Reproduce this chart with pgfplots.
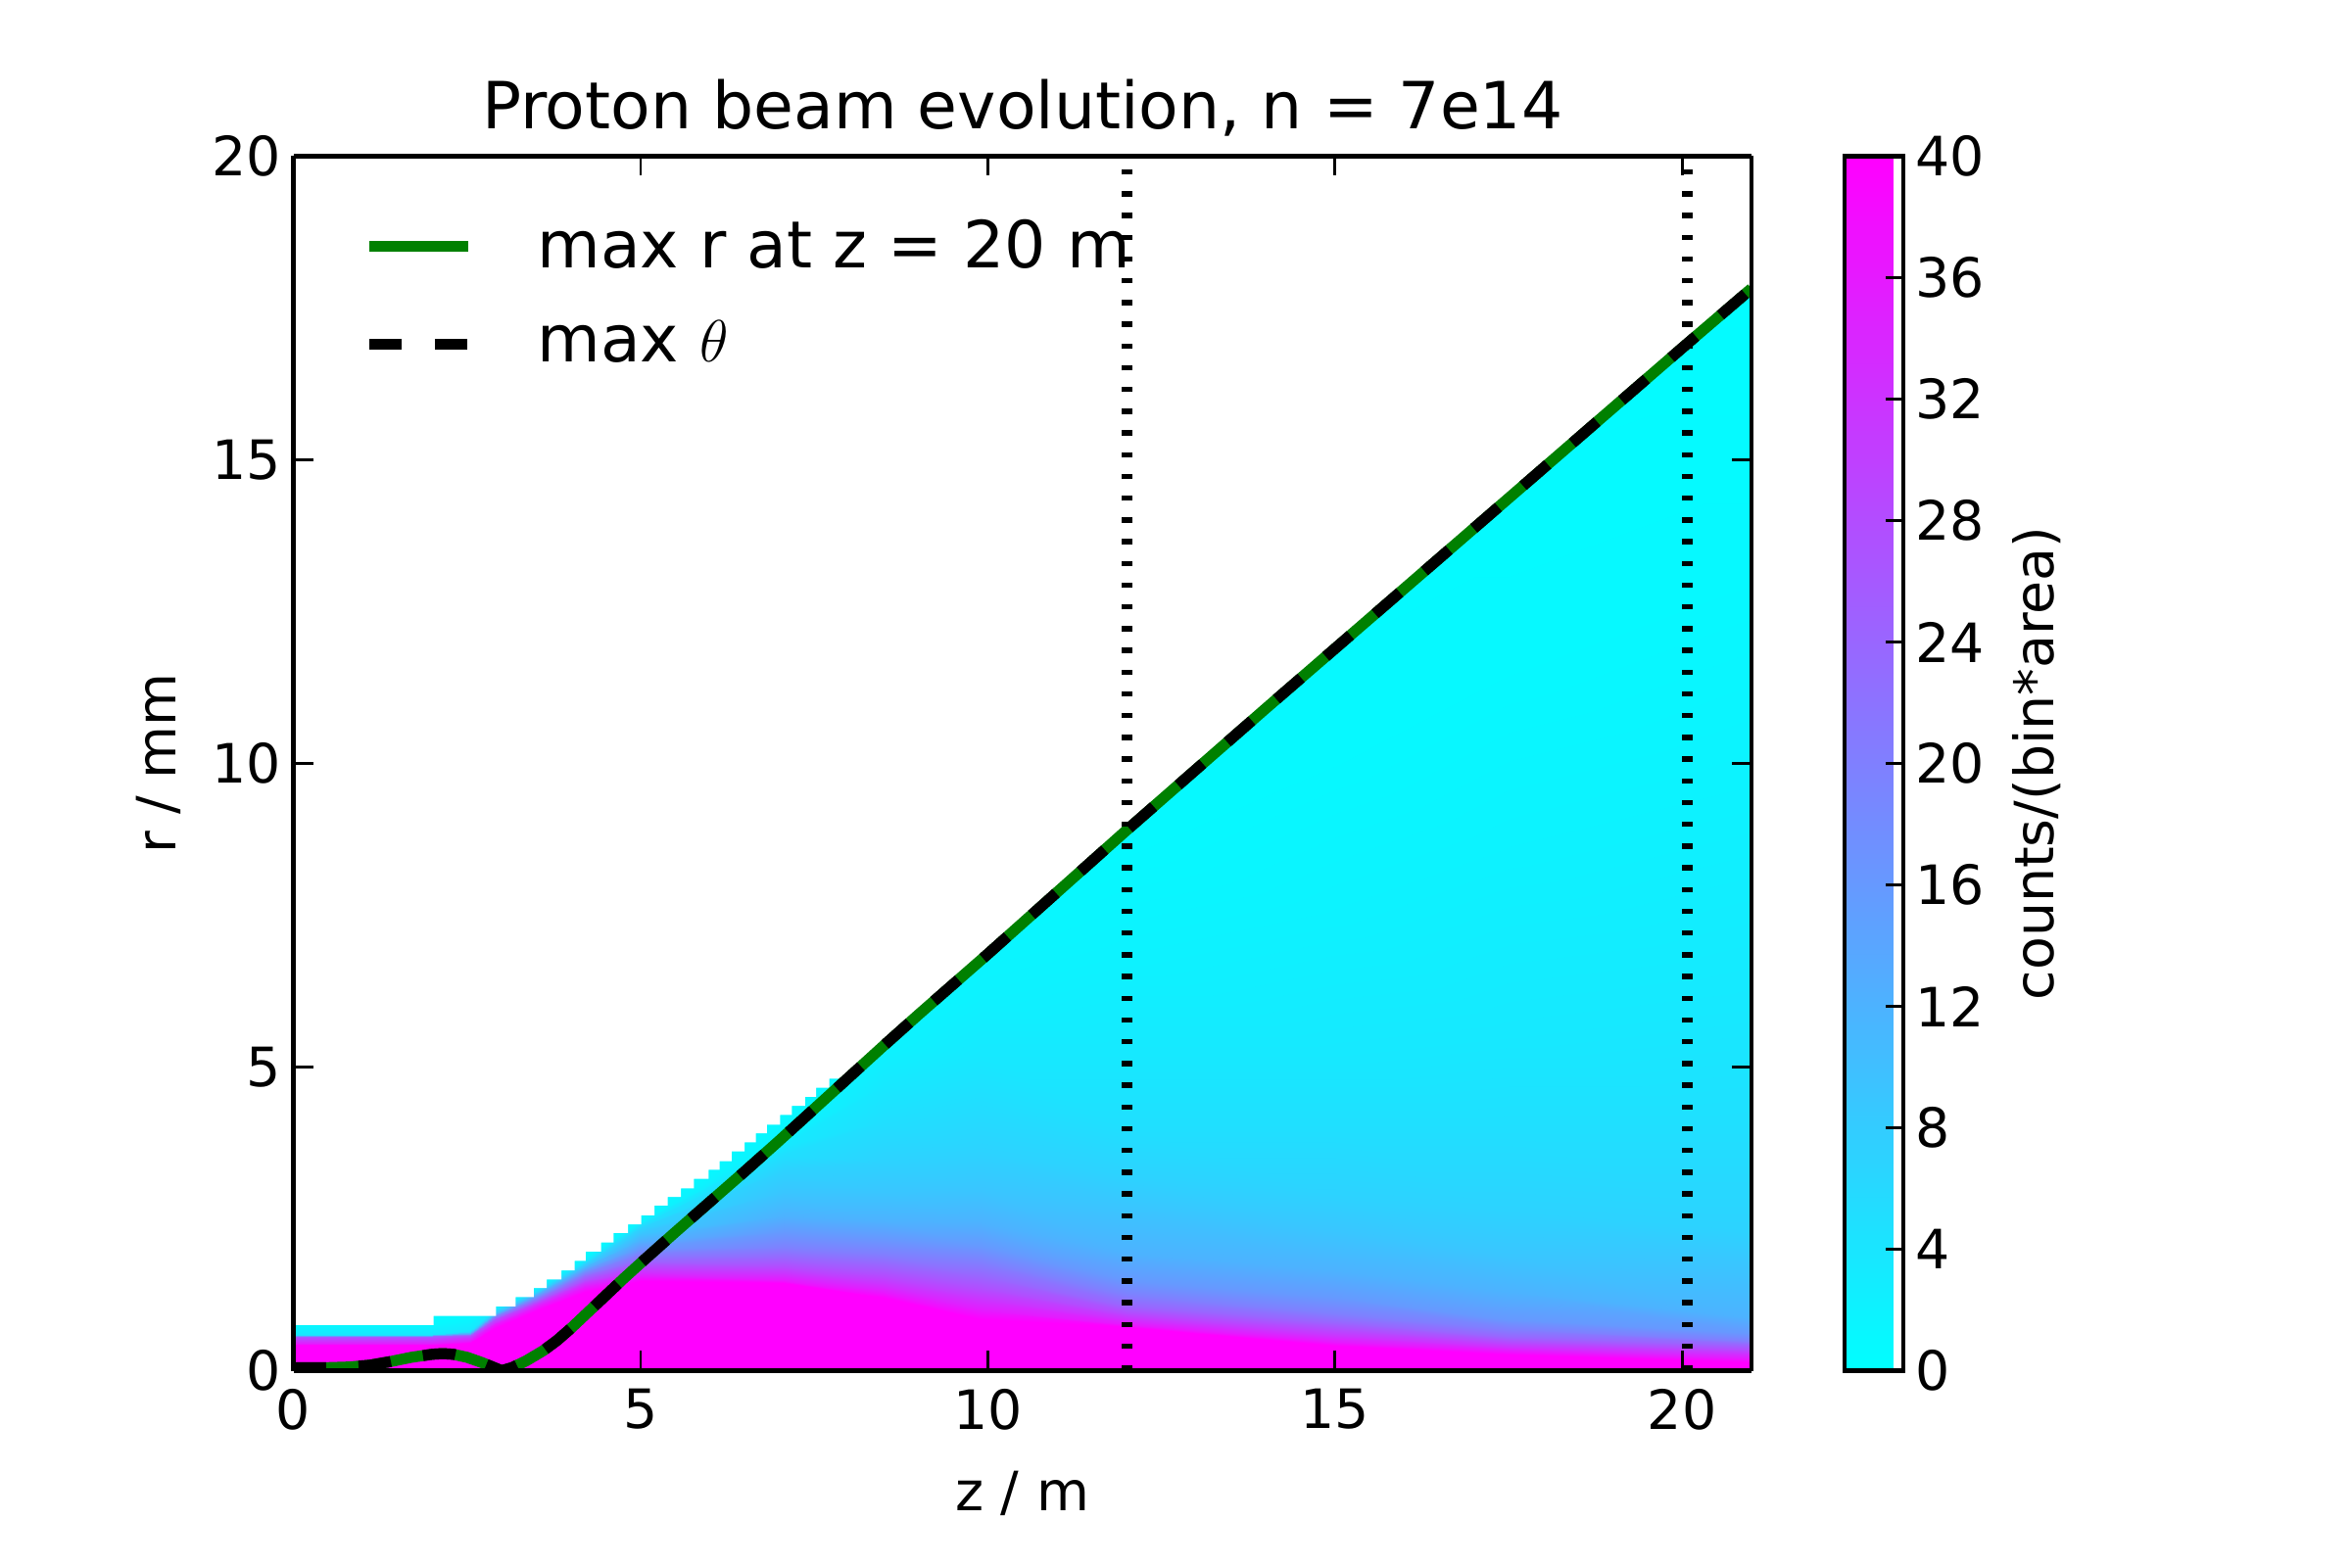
\documentclass[border=0pt]{standalone}
\usepackage{fontspec}
\setmainfont{DejaVu Sans}
\usepackage{pgfplots}
\usepackage{pgfplotstable}
\pgfplotsset{compat=1.18}
\definecolor{mplgreen}{rgb}{0,0.5,0}
\pgfplotsset{
  colormap={cool}{rgb=(0,1,1) rgb=(1,0,1)},
  legend image code/.code={\draw[#1,line cap=butt] (0cm,0cm) -- (1.01cm,0cm);},
}

% heat map: each block of 16 rows is one z column; v levels per row index
\pgfplotstableread{
z r v
0 0 40
0 0.42 40
0 0.45 36
0 0.49 32
0 0.54 28
0 0.57 24
0 0.575 20
0 0.58 16
0 0.583 12
0 0.586 9
0 0.589 7
0 0.592 5
0 0.6 3.5
0 0.7 2
0 0.76 1
0 19.5 0.3
2.0 0 40
2.0 0.42 40
2.0 0.45 36
2.0 0.49 32
2.0 0.54 28
2.0 0.57 24
2.0 0.575 20
2.0 0.58 16
2.0 0.583 12
2.0 0.586 9
2.0 0.589 7
2.0 0.592 5
2.0 0.6 3.5
2.0 0.7 2
2.0 0.76 1
2.0 19.5 0.3
2.55 0 40
2.55 0.46 40
2.55 0.5 36
2.55 0.54 32
2.55 0.57 28
2.55 0.59 24
2.55 0.6 20
2.55 0.61 16
2.55 0.62 12
2.55 0.63 9
2.55 0.64 7
2.55 0.65 5
2.55 0.67 3.5
2.55 0.8 2
2.55 0.92 1
2.55 19.5 0.3
2.9 0 40
2.9 0.7 40
2.9 0.76 36
2.9 0.8 32
2.9 0.84 28
2.9 0.87 24
2.9 0.89 20
2.9 0.91 16
2.9 0.93 12
2.9 0.95 9
2.9 0.97 7
2.9 0.99 5
2.9 1.01 3.5
2.9 1.04 2
2.9 1.1 1
2.9 19.5 0.3
3.5 0 40
3.5 1.0 40
3.5 1.06 36
3.5 1.1 32
3.5 1.14 28
3.5 1.17 24
3.5 1.2 20
3.5 1.23 16
3.5 1.26 12
3.5 1.28 9
3.5 1.3 7
3.5 1.32 5
3.5 1.34 3.5
3.5 1.37 2
3.5 1.42 1
3.5 19.5 0.3
4.2 0 40
4.2 1.3 40
4.2 1.38 36
4.2 1.45 32
4.2 1.5 28
4.2 1.55 24
4.2 1.6 20
4.2 1.65 16
4.2 1.7 12
4.2 1.73 9
4.2 1.76 7
4.2 1.79 5
4.2 1.82 3.5
4.2 1.85 2
4.2 1.9 1
4.2 19.5 0.3
5.0 0 40
5.0 1.47 40
5.0 1.55 36
5.0 1.63 32
5.0 1.73 28
5.0 1.82 24
5.0 1.92 20
5.0 2.02 16
5.0 2.15 12
5.0 2.27 9
5.0 2.34 7
5.0 2.39 5
5.0 2.42 3.5
5.0 2.46 2
5.0 2.6 1
5.0 19.5 0.3
7.06 0 40
7.06 1.45 40
7.06 1.5 36
7.06 1.6 32
7.06 1.72 28
7.06 1.87 24
7.06 2.02 20
7.06 2.28 16
7.06 2.55 12
7.06 2.95 9
7.06 3.3 7
7.06 3.55 5
7.06 3.7 3.5
7.06 3.85 2
7.06 4.2 1
7.06 19.5 0.3
8.5 0 40
8.5 1.2 40
8.5 1.3 36
8.5 1.42 32
8.5 1.58 28
8.5 1.75 24
8.5 1.93 20
8.5 2.18 16
8.5 2.48 12
8.5 2.95 9
8.5 3.45 7
8.5 4.1 5
8.5 4.7 3.5
8.5 5.3 2
8.5 6.0 1
8.5 19.5 0.3
9.9 0 40
9.9 0.85 40
9.9 1.0 36
9.9 1.17 32
9.9 1.35 28
9.9 1.55 24
9.9 1.8 20
9.9 2.05 16
9.9 2.45 12
9.9 3.0 9
9.9 3.6 7
9.9 4.5 5
9.9 5.2 3.5
9.9 6.2 2
9.9 7.5 1
9.9 19.5 0.3
12 0 40
12 0.72 40
12 0.77 36
12 0.86 32
12 0.96 28
12 1.08 24
12 1.25 20
12 1.5 16
12 1.95 12
12 2.7 9
12 3.2 7
12 4.0 5
12 5.2 3.5
12 6.8 2
12 8.5 1
12 19.5 0.3
15 0 40
15 0.41 40
15 0.48 36
15 0.57 32
15 0.68 28
15 0.8 24
15 0.95 20
15 1.2 16
15 1.65 12
15 2.3 9
15 2.9 7
15 4.0 5
15 5.2 3.5
15 7.5 2
15 10 1
15 19.5 0.3
17.5 0 40
17.5 0.26 40
17.5 0.33 36
17.5 0.4 32
17.5 0.48 28
17.5 0.56 24
17.5 0.68 20
17.5 0.85 16
17.5 1.3 12
17.5 1.9 9
17.5 2.6 7
17.5 4.0 5
17.5 5.5 3.5
17.5 8.5 2
17.5 11.5 1
17.5 19.5 0.3
21 0 40
21 0.13 40
21 0.2 36
21 0.28 32
21 0.35 28
21 0.42 24
21 0.5 20
21 0.62 16
21 0.88 12
21 1.75 9
21 2.3 7
21 4.0 5
21 6.0 3.5
21 9.5 2
21 13 1
21 19.5 0.3
}\heat

\pgfplotstableread{
z r
0 0.05
0.5 0.05
0.8 0.06
1.1 0.09
1.4 0.15
1.7 0.22
2.0 0.27
2.15 0.28
2.3 0.27
2.5 0.22
2.7 0.14
2.85 0.07
3.0 0.0
3.15 0.05
3.35 0.16
3.6 0.33
3.8 0.5
4.0 0.7
4.25 0.97
4.5 1.24
4.75 1.51
5.0 1.77
5.5 2.28
6.0 2.78
6.5 3.28
7.0 3.79
7.5 4.31
8.0 4.83
8.5 5.35
9.0 5.86
9.5 6.36
10 6.86
11 7.88
12 8.9
13 9.9
14 10.9
15 11.89
16 12.88
17 13.87
18 14.86
19 15.85
20 16.84
21 17.82
}\curve

\begin{document}
\begin{tikzpicture}
\path[use as bounding box] (0,0) rectangle (24cm,16cm);
\begin{axis}[
  at={(2.995cm,2.005cm)}, anchor=south west,
  scale only axis, width=14.885cm, height=12.40cm,
  view={0}{90},
  xmin=0, xmax=21, ymin=0, ymax=20,
  xtick={0,5,10,15,20}, ytick={0,5,10,15,20}, ztick=\empty,
  xtick pos=both, ytick pos=both,
  tick align=inside,
  major tick length=0.2cm,
  every tick/.style={black, line width=0.8pt},
  axis line style={black, line width=1.4pt},
  axis on top,
  colormap name=cool,
  point meta min=0, point meta max=40,
  /pgf/number format/assume math mode=true,
  tick label style={font=\fontsize{15.75}{18}\selectfont},
  xticklabel style={yshift=-0.06cm},
  label style={font=\fontsize{15.75}{18}\selectfont},
  title style={at={(axis description cs:0.5,1)}, anchor=base, yshift=0.07cm, font=\fontsize{18.9}{22}\selectfont},
  title={Proton beam evolution, n = 7e14},
  xlabel={z / m},
  xlabel style={at={(axis description cs:0.5,0)}, anchor=base, yshift=-1.43cm},
  ylabel={r / mm},
  ylabel style={at={(axis description cs:-0.0806,0.5)}, anchor=base},
  legend style={draw=none, fill=none, inner sep=0pt, outer sep=0pt,
    at={(axis description cs:0.0484,0.948)}, anchor=north west,
    font=\fontsize{18.9}{22}\selectfont, row sep=0.49cm,
    nodes={inner sep=0pt, outer sep=0pt},
    /tikz/every odd column/.append style={column sep=0.647cm}},
  legend cell align=left,
  colorbar,
  colorbar style={
    at={(parent axis.north east)}, anchor=north west, xshift=0.65cm,
    scale only axis, width=0.6cm, height=12.40cm,
    ytick={0,4,...,40},
    ytick pos=right, yticklabel pos=right,
    tick align=inside,
    major tick length=0.18cm,
    every tick/.style={black, line width=0.8pt},
    axis line style={black, line width=1.4pt},
    /pgf/number format/assume math mode=true,
    yticklabel style={font=\fontsize{15.75}{18}\selectfont},
    ylabel={counts/(bin*area)},
    ylabel style={at={(axis description cs:3.55,0.5)}, anchor=base, font=\fontsize{15.75}{18}\selectfont},
  },
]
\addplot3[surf, shader=interp, mesh/cols=16, forget plot] table[x=z, y=r, z=v] {\heat};
\addplot[fill=white, draw=none, forget plot] coordinates {
(0,0.75) (2.02,0.75) (2.02,0.90) (2.92,0.90) (2.92,1.06) (3.20,1.06) (3.20,1.21) (3.46,1.21)
(3.46,1.36) (3.65,1.36) (3.65,1.50) (3.86,1.50) (3.86,1.65) (4.05,1.65) (4.05,1.81) (4.21,1.81)
(4.21,1.96) (4.43,1.96) (4.43,2.11) (4.61,2.11) (4.61,2.27) (4.82,2.27) (4.82,2.41) (5.01,2.41)
(5.01,2.56) (5.20,2.56) (5.20,2.72) (5.39,2.72) (5.39,2.86) (5.58,2.86) (5.58,3.00) (5.77,3.00)
(5.77,3.16) (5.98,3.16) (5.98,3.31) (6.14,3.31) (6.14,3.45) (6.31,3.45) (6.31,3.61) (6.50,3.61)
(6.50,3.76) (6.66,3.76) (6.66,3.91) (6.82,3.91) (6.82,4.05) (7.01,4.05) (7.01,4.21) (7.18,4.21)
(7.18,4.36) (7.37,4.36) (7.37,4.51) (7.53,4.51) (7.53,4.66) (7.72,4.66) (7.72,4.81) (7.9,4.81)
(8.0,4.92) (9.0,5.94) (10,6.93) (11,7.94) (12,8.93) (13,9.92) (14,10.9) (15,11.89) (16,12.88)
(17,13.87) (18,14.86) (19,15.85) (20,16.84) (21,17.82) (21,20.5) (0,20.5) (0,0.75)
};
\addplot[mplgreen, line width=3.2pt, line join=round] table[x=z, y=r] {\curve};
\addlegendentry{max r at z = 20 m}
\addplot[black, line width=3.2pt, line join=round, line cap=butt, dash pattern=on 0.333cm off 0.333cm] table[x=z, y=r] {\curve};
\addlegendentry{max $\theta$}
\addplot[black, line width=0.11cm, line cap=butt, dash pattern=on 0.055cm off 0.167cm, forget plot] coordinates {(12,0) (12,20)};
\addplot[black, line width=0.11cm, line cap=butt, dash pattern=on 0.055cm off 0.167cm, forget plot] coordinates {(20.07,0) (20.07,20)};
\end{axis}
\end{tikzpicture}
\end{document}
